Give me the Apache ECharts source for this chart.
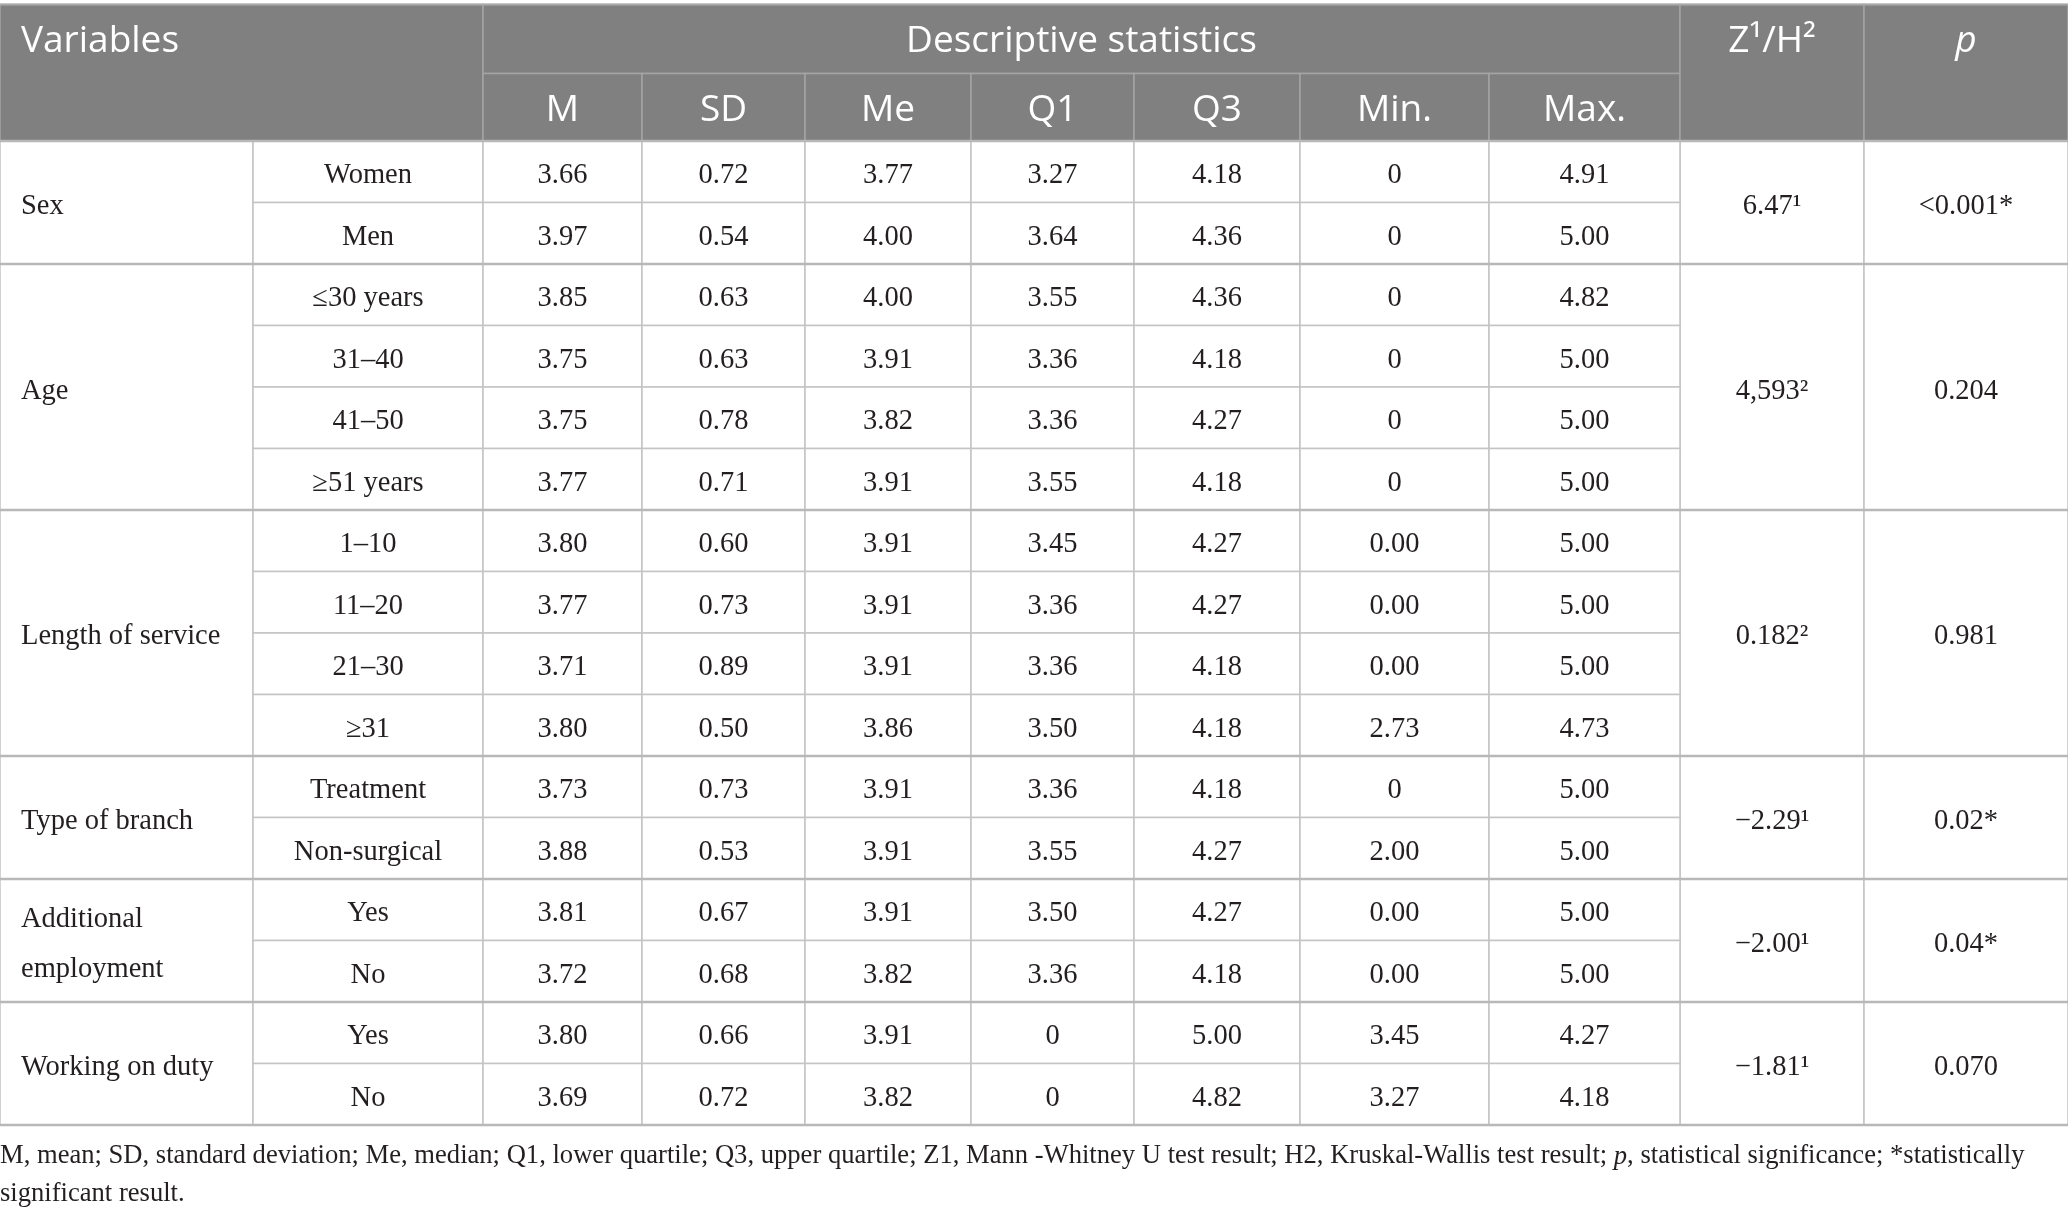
<!DOCTYPE html>
<html>
<head>
<meta charset="utf-8">
<script src="https://cdn.jsdelivr.net/npm/echarts@6/dist/echarts.min.js"></script>
<style>
  html, body { margin: 0; padding: 0; background: #fff; }
  #main { width: 2068px; height: 1215px; }
</style>
</head>
<body>
<div id="main"></div>
<script>
// table content
const groups = ['Sex', 'Age', 'Length of service', 'Type of branch', 'Additional\nemployment', 'Working on duty'];
const groupSizes = [2, 4, 4, 2, 2, 2];
const levels = ['Women', 'Men', '≤30 years', '31–40', '41–50', '≥51 years', '1–10', '11–20', '21–30', '≥31',
  'Treatment', 'Non-surgical', 'Yes', 'No', 'Yes', 'No'];
const statNames = ['M', 'SD', 'Me', 'Q1', 'Q3', 'Min.', 'Max.'];
const M   = ['3.66', '3.97', '3.85', '3.75', '3.75', '3.77', '3.80', '3.77', '3.71', '3.80', '3.73', '3.88', '3.81', '3.72', '3.80', '3.69'];
const SD  = ['0.72', '0.54', '0.63', '0.63', '0.78', '0.71', '0.60', '0.73', '0.89', '0.50', '0.73', '0.53', '0.67', '0.68', '0.66', '0.72'];
const Me  = ['3.77', '4.00', '4.00', '3.91', '3.82', '3.91', '3.91', '3.91', '3.91', '3.86', '3.91', '3.91', '3.91', '3.82', '3.91', '3.82'];
const Q1  = ['3.27', '3.64', '3.55', '3.36', '3.36', '3.55', '3.45', '3.36', '3.36', '3.50', '3.36', '3.55', '3.50', '3.36', '0', '0'];
const Q3  = ['4.18', '4.36', '4.36', '4.18', '4.27', '4.18', '4.27', '4.27', '4.18', '4.18', '4.18', '4.27', '4.27', '4.18', '5.00', '4.82'];
const Min = ['0', '0', '0', '0', '0', '0', '0.00', '0.00', '0.00', '2.73', '0', '2.00', '0.00', '0.00', '3.45', '3.27'];
const Max = ['4.91', '5.00', '4.82', '5.00', '5.00', '5.00', '5.00', '5.00', '5.00', '4.73', '5.00', '5.00', '5.00', '5.00', '4.27', '4.18'];
const testStat = ['6.47¹', '4,593²', '0.182²', '−2.29¹', '−2.00¹', '−1.81¹'];
const pValues = ['<0.001*', '0.204', '0.981', '0.02*', '0.04*', '0.070'];

// layout: column edges in x-axis units, header rows in y-axis units
const colEdges = [0, 253, 483, 642, 805, 971, 1134, 1300, 1489, 1680, 1864, 2068];
const H0 = -2.22, H1 = -1.1, H2 = 0;

const statCols = [M, SD, Me, Q1, Q3, Min, Max];
const cells = [];
cells.push({c0: 0, c1: 2, r0: H0, r1: H2, text: 'Variables', kind: 'headTop', align: 'left'});
cells.push({c0: 2, c1: 9, r0: H0, r1: H1, text: 'Descriptive statistics', kind: 'head'});
statNames.forEach((s, i) => cells.push({c0: 2 + i, c1: 3 + i, r0: H1, r1: H2, text: s, kind: 'head'}));
cells.push({c0: 9, c1: 10, r0: H0, r1: H2, text: 'Z¹/H²', kind: 'headTop'});
cells.push({c0: 10, c1: 11, r0: H0, r1: H2, text: 'p', kind: 'headTop', italic: true});

let row = 0;
const blockEnds = [];
groups.forEach((g, gi) => {
  const n = groupSizes[gi];
  cells.push({c0: 0, c1: 1, r0: row, r1: row + n, text: g, kind: 'body', align: 'left'});
  cells.push({c0: 9, c1: 10, r0: row, r1: row + n, text: testStat[gi], kind: 'body'});
  cells.push({c0: 10, c1: 11, r0: row, r1: row + n, text: pValues[gi], kind: 'body'});
  for (let k = 0; k < n; k++) {
    const r = row + k;
    cells.push({c0: 1, c1: 2, r0: r, r1: r + 1, text: levels[r], kind: 'body'});
    statCols.forEach((col, ci) => cells.push({c0: 2 + ci, c1: 3 + ci, r0: r, r1: r + 1, text: col[r], kind: 'body'}));
  }
  row += n;
  blockEnds.push(row);
});

const STYLE = {
  head:    {fill: '#808080', stroke: '#a4a4a4', lw: 1.5, color: '#ffffff', font: '37px "Open Sans"', dy: 3},
  headTop: {fill: '#808080', stroke: '#a4a4a4', lw: 1.5, color: '#ffffff', font: '37px "Open Sans"', dy: 3},
  body:    {fill: '#ffffff', stroke: '#c4c4c4', lw: 1.5, color: '#231f20', font: '28.5px "Liberation Serif"', dy: 4}
};

function renderCell(params, api) {
  const c = cells[params.dataIndex];
  const p0 = api.coord([api.value(0), api.value(1)]);
  const p1 = api.coord([api.value(2), api.value(3)]);
  const x = p0[0], y = p0[1], w = p1[0] - p0[0], h = p1[1] - p0[1];
  const st = STYLE[c.kind];
  let ty = y + h / 2 + st.dy;
  if (c.kind === 'headTop') {
    ty = (api.coord([0, H0])[1] + api.coord([0, H1])[1]) / 2 + st.dy;
  }
  const tx = c.align === 'left' ? x + 21 : x + w / 2;
  return {
    type: 'group',
    children: [
      {type: 'rect', shape: {x: x, y: y, width: w, height: h},
        style: {fill: st.fill, stroke: st.stroke, lineWidth: st.lw}},
      {type: 'text', style: {
        text: c.text, x: tx, y: ty, align: c.align || 'center', verticalAlign: 'middle',
        font: (c.italic ? 'italic ' : '') + st.font, fill: st.color, lineHeight: 50
      }}
    ]
  };
}

function renderBlockLine(params, api) {
  const a = api.coord([0, api.value(0)]);
  const b = api.coord([2068, api.value(0)]);
  return {type: 'line', shape: {x1: a[0], y1: a[1], x2: b[0], y2: b[1]},
    style: {stroke: '#b8b8b8', lineWidth: 2.5}};
}

const chart = echarts.init(document.getElementById('main'));
chart.setOption({
  animation: false,
  backgroundColor: '#ffffff',
  grid: {left: 0, right: 0, top: 4.5, height: 1120.5},
  xAxis: {type: 'value', min: 0, max: 2068, show: false},
  yAxis: {type: 'value', min: H0, max: 16, inverse: true, show: false},
  series: [
    {
      type: 'custom',
      renderItem: renderCell,
      encode: {x: [0, 2], y: [1, 3]},
      data: cells.map(c => [colEdges[c.c0], c.r0, colEdges[c.c1], c.r1])
    },
    {
      type: 'custom',
      renderItem: renderBlockLine,
      z: 3,
      encode: {y: 0},
      data: [0].concat(blockEnds).map(v => [v])
    },
    {
      type: 'custom',
      renderItem: (params, api) => {
        const a = api.coord([0, H0]);
        const b = api.coord([2068, H0]);
        return {type: 'line', shape: {x1: a[0], y1: a[1], x2: b[0], y2: b[1]},
          style: {stroke: '#a8a8a8', lineWidth: 2}};
      },
      z: 3,
      encode: {y: 0},
      data: [[H0]]
    }
  ],
  graphic: [
    {
      type: 'text', left: 0, top: 1143,
      style: {
        text: 'M, mean; SD, standard deviation; Me, median; Q1, lower quartile; Q3, upper quartile; Z1, Mann -Whitney U test result; H2, Kruskal-Wallis test result; {i|p}, statistical significance; *statistically',
        font: '26.6px "Liberation Serif"', fill: '#231f20',
        rich: {i: {fontStyle: 'italic', fontSize: 26.6, fontFamily: 'Liberation Serif', fill: '#231f20'}}
      }
    },
    {
      type: 'text', left: 0, top: 1181,
      style: {text: 'significant result.', font: '26.6px "Liberation Serif"', fill: '#231f20'}
    }
  ]
});
</script>
</body>
</html>
